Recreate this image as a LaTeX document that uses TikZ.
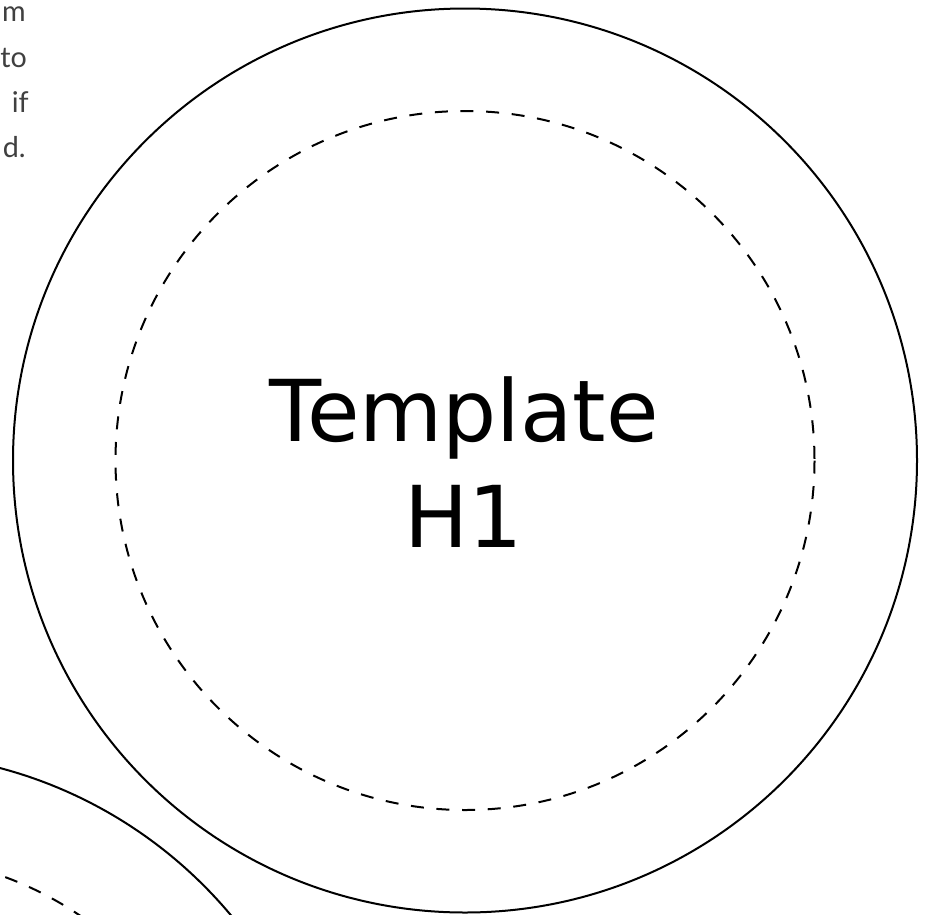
\documentclass[tikz,border=0pt]{standalone}
\usepackage{fontspec}
\setmainfont{DejaVu Sans}
\newfontfamily\notefont{Lato}
\definecolor{notegray}{HTML}{404040}
\begin{document}
\begin{tikzpicture}[x=0.75pt,y=-0.75pt,
  outerring/.style={draw=black, line width=1.5pt},
  innerring/.style={draw=black, line width=1.5pt, dash pattern=on 9.75pt off 9.5pt},
  note/.style={font=\notefont\fontsize{21.5}{34}\selectfont, text=notegray, inner sep=0pt, anchor=base east},
  title/.style={font=\fontsize{64}{79.5}\selectfont, align=center, inner sep=0pt}]
\useasboundingbox (0,0) rectangle (927,914);
% main template
\coordinate (c1) at (465,460.5);
\draw[outerring] (c1) circle[radius=452];
\draw[innerring] (c1) circle[radius=349.5];
\node[title] (t1) at (464,461.6) {Template\\H1};
% neighbouring template (partly visible)
\coordinate (c2) at (-116,1205);
\draw[outerring] (c2) circle[radius=452];
\draw[innerring] (c2) circle[radius=349.5];
% note text at the left edge
\node[note] (n1) at (26,21) {m};
\node[note] (n2) at (27,67) {to};
\node[note] (n3) at (29,112) {if};
\node[note] (n4) at (26,157) {d.};
\end{tikzpicture}
\end{document}
